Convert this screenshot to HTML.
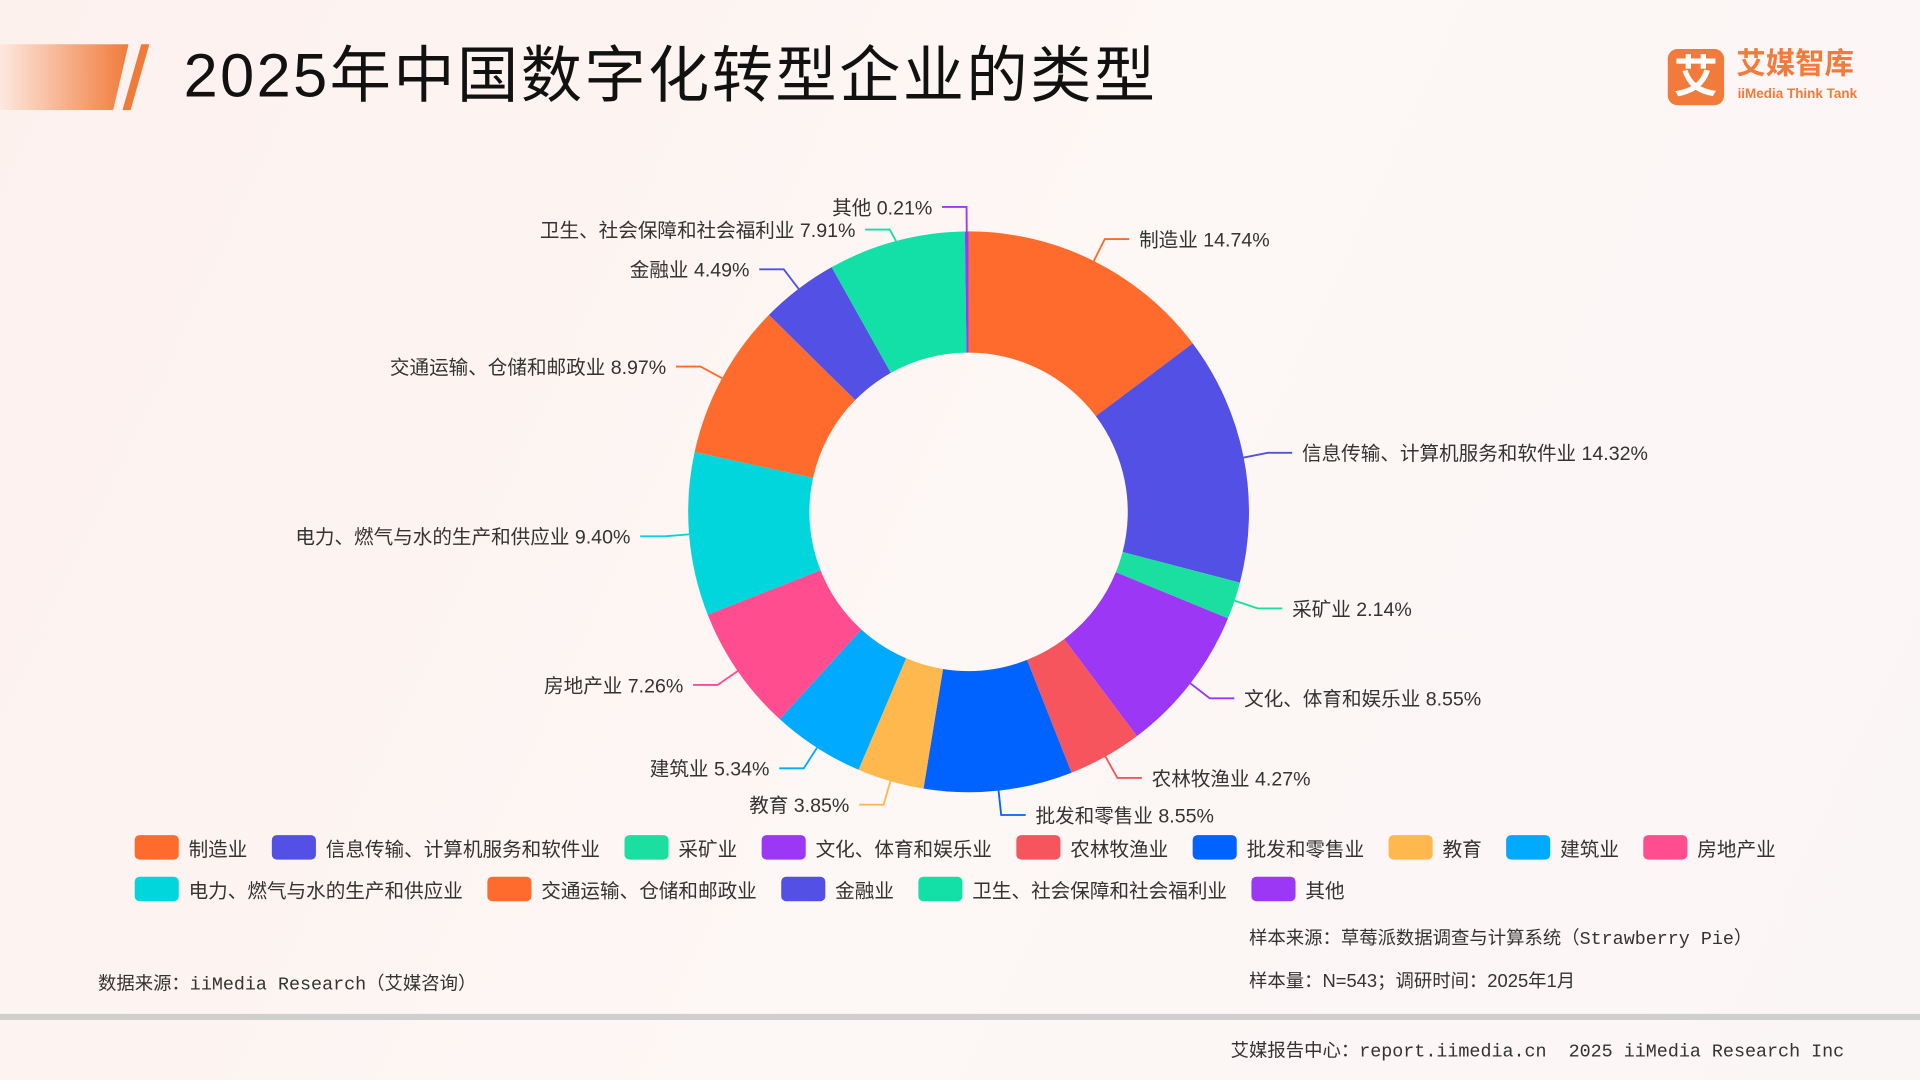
<!DOCTYPE html>
<html><head><meta charset="utf-8">
<style>
html,body{margin:0;padding:0;width:1920px;height:1080px;overflow:hidden;}
body{background:linear-gradient(115deg,#fdf1ee 0%,#fdf7f5 50%,#fbf6f6 100%);font-family:"Liberation Sans","Noto Sans CJK SC",sans-serif;}
#wrap{position:absolute;left:0;top:0;width:1568px;height:882px;transform:scale(1.2245);transform-origin:0 0;}
.abs{position:absolute;}
.mono{font-family:"Liberation Mono","Noto Sans CJK SC",monospace;}
#legend{position:absolute;left:110px;top:681px;width:1420px;display:flex;flex-wrap:wrap;}
.li{display:flex;align-items:center;margin-right:20px;height:22px;margin-bottom:12px;font-size:16px;color:#333;}
.sw{width:36px;height:20px;border-radius:4px;margin-right:8px;}
</style></head><body>
<div id="wrap">
  <div class="abs" style="left:0;top:36px;width:105px;height:54px;background:linear-gradient(90deg,rgba(255,160,110,0.1),#f07a3a);clip-path:polygon(0 0,100% 0,88% 100%,0 100%);"></div>
  <div class="abs" style="left:100px;top:36px;width:22px;height:54px;background:#f07a3a;clip-path:polygon(70% 0,100% 0,30% 100%,0 100%);"></div>
  <div class="abs" style="left:150px;top:30px;font-size:50px;color:#111;line-height:64px;letter-spacing:2px;">2025年中国数字化转型企业的类型</div>
  <div class="abs" style="left:1362px;top:40px;width:46px;height:46px;border-radius:8px;background:#f27b3b;color:#fff;font-size:36px;line-height:46px;text-align:center;font-weight:bold;">艾</div>
  <div class="abs" style="left:1418px;top:38px;font-size:24px;color:#f27b3b;font-weight:bold;line-height:30px;">艾媒智库</div>
  <div class="abs" style="left:1419px;top:71px;font-size:11px;color:#f27b3b;font-weight:bold;">iiMedia Think Tank</div>

  <svg class="abs" style="left:0;top:0" width="1568" height="882" id="chart"></svg>

  <div id="legend"></div>

  <div class="abs mono" style="left:1020px;top:755px;font-size:15px;color:#333;">样本来源：草莓派数据调查与计算系统（Strawberry Pie）</div>
  <div class="abs" style="left:1020px;top:790px;font-size:15px;color:#333;">样本量：N=543；调研时间：2025年1月</div>
  <div class="abs mono" style="left:80px;top:792px;font-size:15px;color:#333;">数据来源：iiMedia Research（艾媒咨询）</div>
  <div class="abs" style="left:0;top:828px;width:1568px;height:5px;background:#cfcfcf;"></div>
  <div class="abs mono" style="left:1005px;top:847px;font-size:15px;color:#333;">艾媒报告中心：report.iimedia.cn&nbsp;&nbsp;2025 iiMedia Research Inc</div>
</div>
<script>
const categories=["制造业","信息传输、计算机服务和软件业","采矿业","文化、体育和娱乐业","农林牧渔业","批发和零售业","教育","建筑业","房地产业","电力、燃气与水的生产和供应业","交通运输、仓储和邮政业","金融业","卫生、社会保障和社会福利业","其他"];
const values=[14.74,14.32,2.14,8.55,4.27,8.55,3.85,5.34,7.26,9.40,8.97,4.49,7.91,0.21];
const colors=["#ff6b2c","#5350e6","#1adfa0","#9b37f5","#f6555d","#0062ff","#ffb84d","#00aaff","#ff4d8f","#00d6dc","#ff6b2c","#5350e6","#12e0a6","#9b37f5"];
const NS="http://www.w3.org/2000/svg";
const svg=document.getElementById('chart');
const cx=791,cy=418,R=229,r0=130;
const total=values.reduce((a,b)=>a+b,0);
function pt(a,rad){return [cx+rad*Math.sin(a),cy-rad*Math.cos(a)];}
let acc=0;
values.forEach((v,i)=>{
  const a0=acc/total*2*Math.PI; acc+=v; const a1=acc/total*2*Math.PI;
  const large=(a1-a0)>Math.PI?1:0;
  const p0=pt(a0,R),p1=pt(a1,R),q1=pt(a1,r0),q0=pt(a0,r0);
  const path=document.createElementNS(NS,'path');
  path.setAttribute('d',`M${p0[0]},${p0[1]} A${R},${R} 0 ${large} 1 ${p1[0]},${p1[1]} L${q1[0]},${q1[1]} A${r0},${r0} 0 ${large} 0 ${q0[0]},${q0[1]} Z`);
  path.setAttribute('fill',colors[i]);
  
  
  svg.appendChild(path);
  const am=(a0+a1)/2;
  const s=pt(am,R),e=pt(am,R+20);
  const right=Math.sin(am)>=0;
  let ey=e[1];
  // avoid overlap of small top-left labels with the "其他" label
  if(i===values.length-2) ey=Math.min(ey,pt(am,R+20)[1])+ (ey<180?10:0);
  const hx=e[0]+(right?20:-20);
  const line=document.createElementNS(NS,'polyline');
  line.setAttribute('points',`${s[0]},${s[1]} ${e[0]},${ey} ${hx},${ey}`);
  line.setAttribute('fill','none');line.setAttribute('stroke',colors[i]);line.setAttribute('stroke-width','1.5');
  
  
  svg.appendChild(line);
  const t=document.createElementNS(NS,'text');
  t.setAttribute('x',hx+(right?8:-8));t.setAttribute('y',ey+6);
  t.setAttribute('text-anchor',right?'start':'end');
  t.setAttribute('font-size','16');t.setAttribute('fill','#333');
  t.setAttribute('font-family','"Liberation Sans","Noto Sans CJK SC",sans-serif');
  t.textContent=categories[i]+' '+v.toFixed(2)+'%';
  
  
  svg.appendChild(t);
});
const lg=document.getElementById('legend');
categories.forEach((c,i)=>{
  const d=document.createElement('div');d.className='li';
  
  
  const sw=document.createElement('div');sw.className='sw';sw.style.background=colors[i];
  
  
  const sp=document.createElement('span');sp.textContent=c;
  d.appendChild(sw);d.appendChild(sp);lg.appendChild(d);
  if(i===8){const br=document.createElement('div');br.style.flexBasis='100%';br.style.height='0';lg.appendChild(br);}
});
</script>
</body></html>
